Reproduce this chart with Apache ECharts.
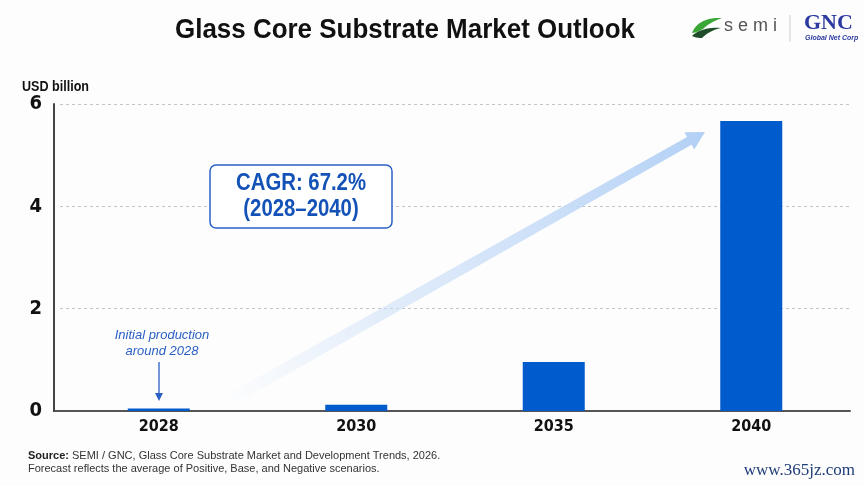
<!DOCTYPE html>
<html>
<head>
<meta charset="utf-8">
<script src="https://cdn.jsdelivr.net/npm/echarts@6/dist/echarts.min.js"></script>
<style>
html,body{margin:0;padding:0;background:#fdfdfd;}
#c{width:864px;height:486px;}
</style>
</head>
<body>
<div id="c"></div>
<script>
// ---- data ----
const years = ['2028', '2030', '2035', '2040'];
const marketValues = [0.05, 0.12, 0.96, 5.67];
const yTicks = [0, 2, 4, 6];

const COND = '"DejaVu Sans Condensed", "Liberation Sans Narrow", sans-serif';
const SANS = '"Liberation Sans", Arial, sans-serif';
const BLUE = '#005bcc';

const chart = echarts.init(document.getElementById('c'), null, {renderer: 'canvas'});

// measure text to emulate a narrow font by horizontal scaling
const mctx = document.createElement('canvas').getContext('2d');
function fitScale(text, font, target) {
  mctx.font = font;
  return target / mctx.measureText(text).width;
}

function arrowPoly(x0, y0, x1, y1, w0, w1, headLen, headHalf) {
  const dx = x1 - x0, dy = y1 - y0, L = Math.hypot(dx, dy);
  const ux = dx / L, uy = dy / L, nx = -uy, ny = ux;
  const bx = x1 - ux * headLen, by = y1 - uy * headLen;
  return [
    [x0 + nx * w0, y0 + ny * w0],
    [bx + nx * w1, by + ny * w1],
    [bx + nx * headHalf, by + ny * headHalf],
    [x1, y1],
    [bx - nx * headHalf, by - ny * headHalf],
    [bx - nx * w1, by - ny * w1],
    [x0 - nx * w0, y0 - ny * w0]
  ];
}
// sample cubic bezier curves into polygon points
function bez(p0, p1, p2, p3, n) {
  const pts = [];
  for (let i = 0; i <= n; i++) {
    const t = i / n, s = 1 - t;
    pts.push([
      s*s*s*p0[0] + 3*s*s*t*p1[0] + 3*s*t*t*p2[0] + t*t*t*p3[0],
      s*s*s*p0[1] + 3*s*s*t*p1[1] + 3*s*t*t*p2[1] + t*t*t*p3[1]
    ]);
  }
  return pts;
}
const leafTop = bez([692,33],[696,22],[708,17],[722,18],12).concat(bez([722,18],[713,21],[707,25],[703,29],8)).concat(bez([703,29],[699,31],[695,33],[692,33],6));
const leafBot = bez([692,36],[698,30],[708,27],[721,28],12).concat(bez([721,28],[712,30],[706,34],[702,38],8)).concat(bez([702,38],[698,38],[694,37],[692,36],6));

const titleFont = 'bold 28px ' + SANS;
const titleText = 'Glass Core Substrate Market Outlook';
const cagrFont = 'bold 23px ' + SANS;
const usdFont = 'bold 14px ' + SANS;

const option = {
  backgroundColor: '#fdfdfd',
  animation: false,
  grid: {left: 60, right: 14, top: 104, bottom: 75, containLabel: false},
  xAxis: {
    type: 'category',
    data: years,
    axisLine: {show: true, lineStyle: {color: '#555', width: 2}},
    axisTick: {show: false},
    axisLabel: {fontFamily: COND, fontSize: 16, fontWeight: 'bold', color: '#111', margin: 8}
  },
  yAxis: {
    type: 'value',
    min: 0, max: 6, interval: 2,
    offset: 6,
    axisLine: {show: true, lineStyle: {color: '#444', width: 2}},
    axisTick: {show: false},
    axisLabel: {
      fontFamily: COND, fontSize: 20, fontWeight: 'bold', color: '#111', margin: 12,
      formatter: v => yTicks.includes(v) ? String(v) : ''
    },
    splitLine: {show: true, lineStyle: {color: '#c4c4c4', type: [3, 3], width: 1}}
  },
  series: [{
    type: 'bar',
    data: marketValues,
    barWidth: 62,
    itemStyle: {color: BLUE},
    silent: true
  }],
  graphic: [
    // short join between the offset y axis and the x axis line
    {type: 'line', shape: {x1: 53, y1: 411, x2: 61, y2: 411}, style: {stroke: '#555', lineWidth: 2}},
    // title
    {
      type: 'text', x: 405, y: 16, scaleX: fitScale(titleText, titleFont, 460),
      style: {text: titleText, textAlign: 'center', font: titleFont, fill: '#111'}
    },
    // y axis unit
    {
      type: 'text', x: 22, y: 80, scaleX: fitScale('USD billion', usdFont, 67),
      style: {text: 'USD billion', font: usdFont, fill: '#111'}
    },
    // CAGR arrow
    {
      type: 'polygon', z: 1,
      shape: {points: arrowPoly(228, 401, 705, 132, 6, 4.5, 18, 10)},
      style: {
        fill: {type: 'linear', x: 0, y: 1, x2: 1, y2: 0, colorStops: [
          {offset: 0, color: 'rgba(210,228,250,0)'},
          {offset: 0.35, color: 'rgba(205,224,248,0.6)'},
          {offset: 1, color: 'rgba(178,208,245,1)'}
        ]}
      }
    },
    // CAGR box
    {
      type: 'rect', z: 5,
      shape: {x: 210, y: 165, width: 182, height: 63, r: 6},
      style: {fill: '#ffffff', stroke: '#2a62c6', lineWidth: 1.5}
    },
    {
      type: 'text', z: 6, x: 301, y: 171, scaleX: fitScale('CAGR: 67.2%', cagrFont, 130),
      style: {
        text: 'CAGR: 67.2%\n(2028\u20132040)', textAlign: 'center',
        font: cagrFont, fill: '#1452b8', lineHeight: 26
      }
    },
    // Initial production annotation
    {
      type: 'text', z: 6, x: 162, y: 327,
      style: {
        text: 'Initial production\naround 2028', textAlign: 'center',
        font: 'italic 13px ' + SANS, fill: '#2a5fc4', lineHeight: 16
      }
    },
    {
      type: 'line', z: 6,
      shape: {x1: 159, y1: 362, x2: 159, y2: 394},
      style: {stroke: '#2a5fc4', lineWidth: 1.3}
    },
    {
      type: 'polygon', z: 6,
      shape: {points: [[155, 393], [163, 393], [159, 401]]},
      style: {fill: '#2a5fc4'}
    },
    // footer
    {
      type: 'text', x: 28, y: 449,
      style: {
        text: '{b|Source:} SEMI / GNC, Glass Core Substrate Market and Development Trends, 2026.\nForecast reflects the average of Positive, Base, and Negative scenarios.',
        font: '11px ' + SANS, fill: '#333', lineHeight: 13,
        rich: {b: {fontWeight: 'bold', fontSize: 11, fontFamily: SANS, fill: '#222'}}
      }
    },
    // watermark
    {
      type: 'text', x: 855, y: 462,
      style: {text: 'www.365jz.com', textAlign: 'right', font: '17px "Liberation Serif", serif', fill: '#1e3d78'}
    },
    // semi logo
    {type: 'polygon', z: 6, shape: {points: leafTop}, style: {fill: '#3aa635'}},
    {type: 'polygon', z: 6, shape: {points: leafBot}, style: {fill: '#1f4d2a'}},
    {
      type: 'text', x: 724, y: 17,
      style: {text: 's e m i', font: '18px ' + SANS, fill: '#555'}
    },
    {
      type: 'line', shape: {x1: 790, y1: 15, x2: 790, y2: 42},
      style: {stroke: '#cfcfcf', lineWidth: 1}
    },
    {
      type: 'text', x: 804, y: 12,
      style: {text: 'GNC', font: 'bold 22px "Liberation Serif", serif', fill: '#2b39a0'}
    },
    {
      type: 'text', x: 805, y: 35,
      style: {text: 'Global Net Corp', font: 'italic bold 7px ' + SANS, fill: '#2b39a0'}
    }
  ]
};
chart.setOption(option);
</script>
</body>
</html>
